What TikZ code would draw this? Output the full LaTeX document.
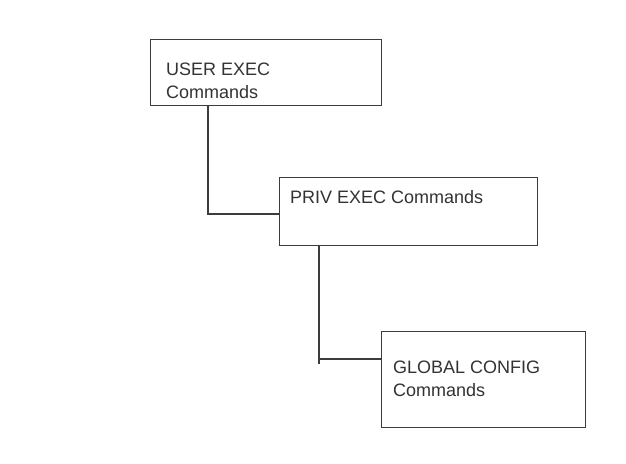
\documentclass[tikz,border=0pt]{standalone}
\usepackage{fontspec}
\setmainfont{Liberation Sans}
\definecolor{linegray}{HTML}{3C3C3C}
\definecolor{textgray}{HTML}{333333}
\begin{document}
\begin{tikzpicture}[x=1pt,y=-1pt,
  box/.style={draw=linegray, line width=1.4pt, rectangle, anchor=north west, inner sep=0pt},
  txt/.style={anchor=base west, inner sep=0pt, text=textgray, font=\fontsize{18}{23}\selectfont},
  conn/.style={draw=linegray, line width=1.4pt}]
\useasboundingbox[fill=white] (0,0) rectangle (626,463);
% boxes
\node[box, minimum width=231pt, minimum height=66pt] (b1) at (150,39) {};
\node[box, minimum width=258pt, minimum height=68pt] (b2) at (279,177) {};
\node[box, minimum width=204pt, minimum height=96pt] (b3) at (381,331) {};
% texts
\node[txt] (t1a) at (166,75) {USER EXEC};
\node[txt] (t1b) at (166,98) {Commands};
\node[txt] (t2a) at (290,203) {PRIV EXEC Commands};
\node[txt] (t3a) at (393,373) {GLOBAL CONFIG};
\node[txt] (t3b) at (393,396) {Commands};
% connectors
\coordinate (c1) at (208,214);
\coordinate (c2) at (319,359);
\coordinate (c2end) at (319,364);
\draw[conn] (b1.south -| c1) -- (c1) -- (c1 -| b2.west);
\draw[conn] (b2.south -| c2) -- (c2end);
\draw[conn] (c2) -- (c2 -| b3.west);
\end{tikzpicture}
\end{document}
